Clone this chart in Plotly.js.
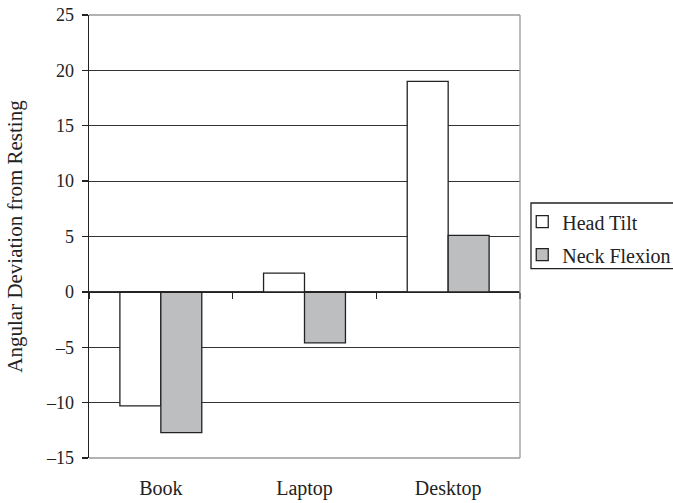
<!DOCTYPE html>
<html>
<head>
<meta charset="utf-8">
<script src="https://cdn.plot.ly/plotly-3.0.1.min.js"></script>
<style>html,body{margin:0;padding:0;background:#fff;}#chart{width:673px;height:503px;}</style>
</head>
<body>
<div id="chart"></div>
<script>
var categories = ["Book", "Laptop", "Desktop"];
var headTilt = [-10.3, 1.7, 19.0];
var neckFlexion = [-12.7, -4.6, 5.1];
var yTicks = [-15, -10, -5, 0, 5, 10, 15, 20, 25];
var seriesNames = ["Head Tilt", "Neck Flexion"];

var FONT = "Liberation Serif, DejaVu Serif, serif";
var TXT = "#222222";

var traces = [
  {type: "bar", name: seriesNames[0], x: categories, y: headTilt, legendgroup: "a",
   marker: {color: "#ffffff", line: {color: "#222222", width: 1.3}}},
  {type: "bar", name: seriesNames[1], x: categories, y: neckFlexion, legendgroup: "b",
   marker: {color: "#bcbec0", line: {color: "#222222", width: 1.3}}},
  {type: "scatter", mode: "markers", x: categories, y: [null, null, null],
   xaxis: "x2", yaxis: "y", showlegend: false, hoverinfo: "skip"}
];

var layout = {
  width: 673, height: 503,
  margin: {l: 89, r: 153, t: 15, b: 45},
  paper_bgcolor: "#ffffff", plot_bgcolor: "#ffffff",
  font: {family: FONT, size: 20, color: TXT},
  barmode: "group",
  bargap: 0.43,
  bargroupgap: 0,
  showlegend: true,
  legend: {xref: "container", yref: "container", x: 0.776, xanchor: "left", y: 0.598, yanchor: "top",
    bgcolor: "rgba(0,0,0,0)", borderwidth: 0,
    font: {family: FONT, size: 20, color: TXT},
    itemwidth: 30, traceorder: "grouped", tracegroupgap: 4},
  xaxis: {
    type: "category", showgrid: false, zeroline: false, showline: false,
    ticks: "", ticklabelstandoff: 16,
    tickfont: {family: FONT, size: 20, color: TXT}
  },
  xaxis2: {
    type: "category", overlaying: "x", matches: "x", anchor: "free", position: 0.375,
    side: "bottom", showgrid: false, zeroline: false, showline: true,
    linecolor: "#222222", linewidth: 1.3,
    ticks: "outside", tickson: "boundaries", ticklen: 6, tickwidth: 1.3, tickcolor: "#222222",
    showticklabels: false
  },
  yaxis: {
    range: [-15, 25], tickvals: yTicks, ticktext: yTicks.map(function(v){return v < 0 ? "\u2013" + Math.abs(v) : String(v);}),
    showgrid: true, gridcolor: "#333333", gridwidth: 1.2,
    zeroline: false, showline: true, linecolor: "#222222", linewidth: 1.3,
    ticks: "outside", ticklen: 6, tickwidth: 1.3, tickcolor: "#222222",
    ticklabelstandoff: 4,
    tickfont: {family: FONT, size: 18, color: TXT},
    title: {text: "Angular Deviation from Resting", font: {family: FONT, size: 21, color: TXT}, standoff: 17}
  },
  shapes: [
    {type: "line", xref: "paper", yref: "paper", x0: 0, x1: 1, y0: 1, y1: 1, line: {color: "#999999", width: 1.3}, layer: "above"},
    {type: "line", xref: "paper", yref: "paper", x0: 1, x1: 1, y0: 0, y1: 1, line: {color: "#999999", width: 1.3}, layer: "above"},
    {type: "line", xref: "paper", yref: "paper", x0: 0, x1: 1, y0: 0, y1: 0, line: {color: "#999999", width: 1.3}, layer: "above"},
    {type: "rect", xref: "paper", yref: "paper", x0: 1.0255, x1: 1.36, y0: 0.4275, y1: 0.5756, line: {color: "#222222", width: 1.3}, fillcolor: "rgba(0,0,0,0)", layer: "above"}
  ]
};

Plotly.newPlot("chart", traces, layout, {staticPlot: true, displayModeBar: false});
</script>
</body>
</html>
